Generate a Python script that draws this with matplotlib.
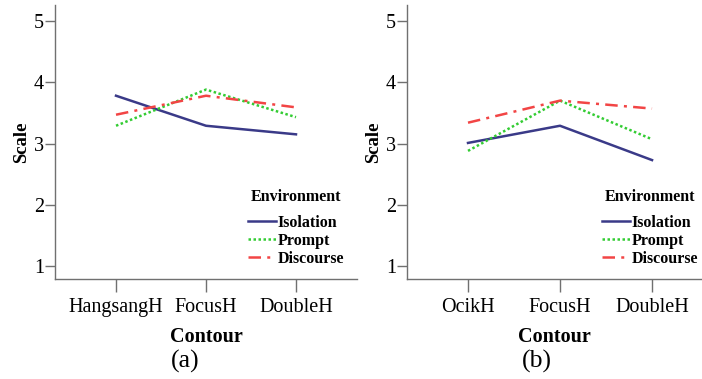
import matplotlib
matplotlib.use("Agg")
import matplotlib.pyplot as plt

plt.rcParams['font.family'] = ['Liberation Serif', 'DejaVu Serif']

cats_a = ["HangsangH", "FocusH", "DoubleH"]
cats_b = ["OcikH", "FocusH", "DoubleH"]
isolation_a = [3.78, 3.29, 3.15]
prompt_a = [3.29, 3.88, 3.43]
discourse_a = [3.47, 3.78, 3.59]
isolation_b = [3.01, 3.29, 2.73]
prompt_b = [2.88, 3.70, 3.07]
discourse_b = [3.34, 3.70, 3.57]
yticks = [1, 2, 3, 4, 5]
series_names = ["Isolation", "Prompt", "Discourse"]
panel_labels = ["(a)", "(b)"]

colors = ["#3a3a88", "#33cc33", "#f24545"]
styles = ["-", (0, (1, 1)), (0, (5, 2.5, 1.2, 2.5))]

W, H = 702, 379
fig = plt.figure(figsize=(W / 100, H / 100), dpi=100)

def px(x0, x1, y0, y1):
    return [x0 / W, 1 - y1 / H, (x1 - x0) / W, (y1 - y0) / H]

panels = [
    (px(55, 357, 5, 279), cats_a, [isolation_a, prompt_a, discourse_a], (-0.678, 2.678), panel_labels[0], 185, (248, 296)),
    (px(407, 702, 5, 279), cats_b, [isolation_b, prompt_b, discourse_b], (-0.663, 2.543), panel_labels[1], 537, (602, 652)),
]

for rect, cats, data, xl, plab, labx, (legx, titx) in panels:
    ax = fig.add_axes(rect)
    xs = list(range(len(cats)))
    for vals, name, c, ls in zip(data, series_names, colors, styles):
        ax.plot(xs, vals, color=c, linestyle=ls, lw=1.8, label=name)
    ax.set_xlim(*xl)
    ax.set_ylim(0.79, 5.26)
    ax.set_xticks(xs)
    ax.set_xticklabels(cats, fontsize=14.5)
    ax.set_yticks(yticks)
    ax.set_yticklabels([str(t) for t in yticks], fontsize=14.5)
    for s in ["top", "right"]:
        ax.spines[s].set_visible(False)
    for s in ["left", "bottom"]:
        ax.spines[s].set_color("#707070")
        ax.spines[s].set_linewidth(1.0)
    ax.tick_params(axis='x', length=9.5, width=1.0, color="#707070", pad=4.5)
    ax.tick_params(axis='y', length=7, width=1.0, color="#707070", pad=1)
    ax.set_ylabel("Scale", fontsize=13.5, fontweight='bold', labelpad=3)
    ax.set_xlabel("Contour", fontsize=14.5, fontweight='bold', labelpad=7)
    ax.patch.set_alpha(0)
    leg = ax.legend(loc='upper left', bbox_to_anchor=(legx / W, 1 - 189 / H),
                    bbox_transform=fig.transFigure, frameon=False,
                    title="Environment", prop={'weight': 'bold', 'size': 11.5},
                    handlelength=1.75, handletextpad=0.1, labelspacing=0.12,
                    borderpad=0, borderaxespad=0)
    leg.get_title().set_fontweight('bold')
    leg.get_title().set_fontsize(11.5)
    leg._legend_box.sep = 7
    fig.text(labx / W, 1 - 361 / H, plab, fontsize=18.5, ha='center', va='center')

fig.savefig("out.png", dpi=100)
